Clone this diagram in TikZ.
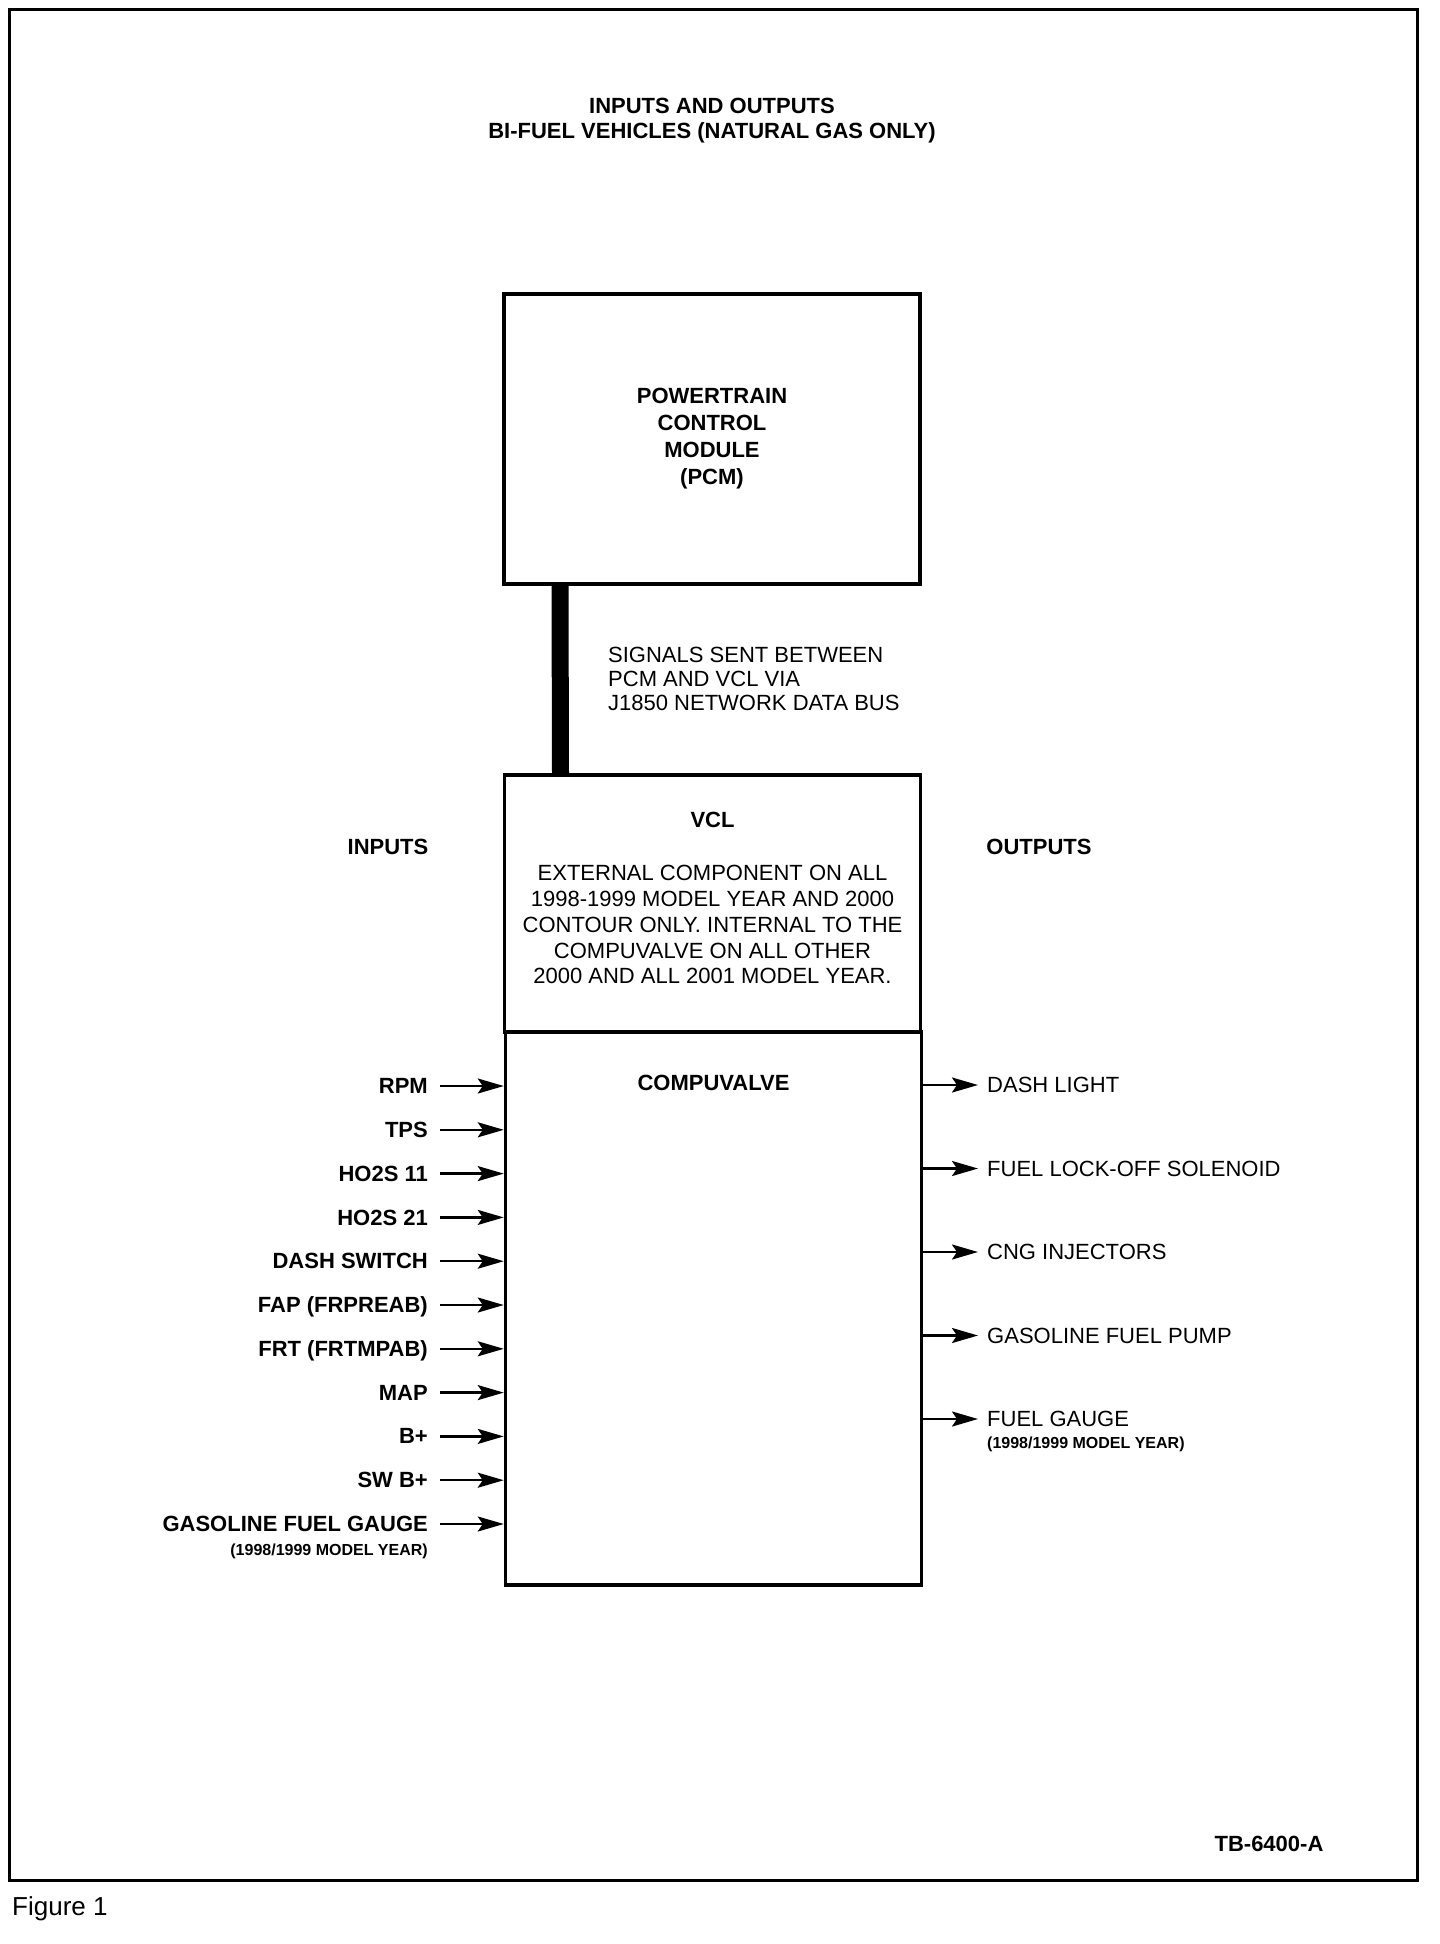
\documentclass[tikz,border=0pt]{standalone}
\usepackage{fontspec}
\setmainfont{Liberation Sans}
\usepackage{tikz}
\usetikzlibrary{arrows.meta,positioning,calc}

\begin{document}
\begin{tikzpicture}[x=1pt, y=-1pt,
	txt/.style={inner sep=0pt, font=\fontsize{22}{26}\selectfont},
	hd/.style={inner sep=0pt, font=\fontsize{22}{26}\selectfont\bfseries},
	sublbl/.style={inner sep=0pt, font=\fontsize{16}{18}\selectfont\bfseries},
	blk/.style={draw, line width=3.5pt, minimum width=416pt, inner sep=0pt},
	inlbl/.style={hd, inner xsep=12pt, text depth=0pt, anchor=east},
	outlbl/.style={txt, inner xsep=9pt, text depth=0pt, anchor=west},
	arr/.style={-{Stealth[length=26pt, width=15pt, inset=5pt]}, line width=2.4pt}]
	\useasboundingbox (0,0) rectangle (1440,1944);
	\draw[line width=3pt] (9,9) rectangle (1417,1880);
	\node[hd, align=center, font=\fontsize{22}{25}\selectfont\bfseries] (title) at (712,121) {INPUTS AND OUTPUTS\\BI-FUEL VEHICLES (NATURAL GAS ONLY)};
	% boxes
	\node[blk, minimum height=290pt, align=center, font=\fontsize{22}{27}\selectfont\bfseries] (pcm) at (712,439) {POWERTRAIN\\CONTROL\\MODULE\\(PCM)};
	\node[blk, minimum height=257pt] (vcl) at (712.5,903.5) {};
	\node[blk, minimum height=553pt] (cv) at (713.5,1308.5) {};
	\draw[line width=17pt] ([xshift=-152pt]pcm.south) -- ([xshift=-152pt]vcl.north);
	\node[txt, align=left, anchor=west, font=\fontsize{22}{24}\selectfont] (bus) at (608,679) {SIGNALS SENT BETWEEN\\PCM AND VCL VIA\\J1850 NETWORK DATA BUS};
	\node[hd] (vcllbl) at ($(vcl.north)+(0,47)$) {VCL};
	\node[txt, align=center, font=\fontsize{22}{25.75}\selectfont] (vcltxt) at ($(vcl.north)+(0,151.5)$) {EXTERNAL COMPONENT ON ALL\\1998-1999 MODEL YEAR AND 2000\\CONTOUR ONLY. INTERNAL TO THE\\COMPUVALVE ON ALL OTHER\\2000 AND ALL 2001 MODEL YEAR.};
	\node[hd] (cvlbl) at ($(cv.north)+(0,53)$) {COMPUVALVE};
	\node[hd] (inputs) at (388,847) {INPUTS};
	\node[hd] (outputs) at (1039,847) {OUTPUTS};
	% inputs
	\foreach \lbl [count=\i from 0] in {RPM,TPS,HO2S 11,HO2S 21,DASH SWITCH,FAP (FRPREAB),FRT (FRTMPAB),MAP,B+,SW B+,GASOLINE FUEL GAUGE}{
		\node[inlbl] (in\i) at (440,{1086+43.8*\i}) {\lbl};
		\draw[arr] (in\i.east) -- (in\i.east -| cv.west);}
	\node[sublbl, anchor=north east] (in10sub) at ($(in10.south east)+(-12,11.5)$) {(1998/1999 MODEL YEAR)};
	% outputs
	\foreach \lbl [count=\i from 0] in {DASH LIGHT,FUEL LOCK-OFF SOLENOID,CNG INJECTORS,GASOLINE FUEL PUMP,FUEL GAUGE}{
		\node[outlbl] (out\i) at (978,{1085+83.5*\i}) {\lbl};
		\draw[arr] (cv.east |- out\i.west) -- (out\i.west);}
	\node[sublbl, anchor=north west] (out4sub) at ($(out4.south west)+(9,9.5)$) {(1998/1999 MODEL YEAR)};
	\node[hd] (tbnum) at (1269,1844) {TB-6400-A};
	\node[inner sep=0pt, anchor=west, font=\fontsize{26}{30}\selectfont] (fig) at (12,1909) {Figure 1};
\end{tikzpicture}
\end{document}
